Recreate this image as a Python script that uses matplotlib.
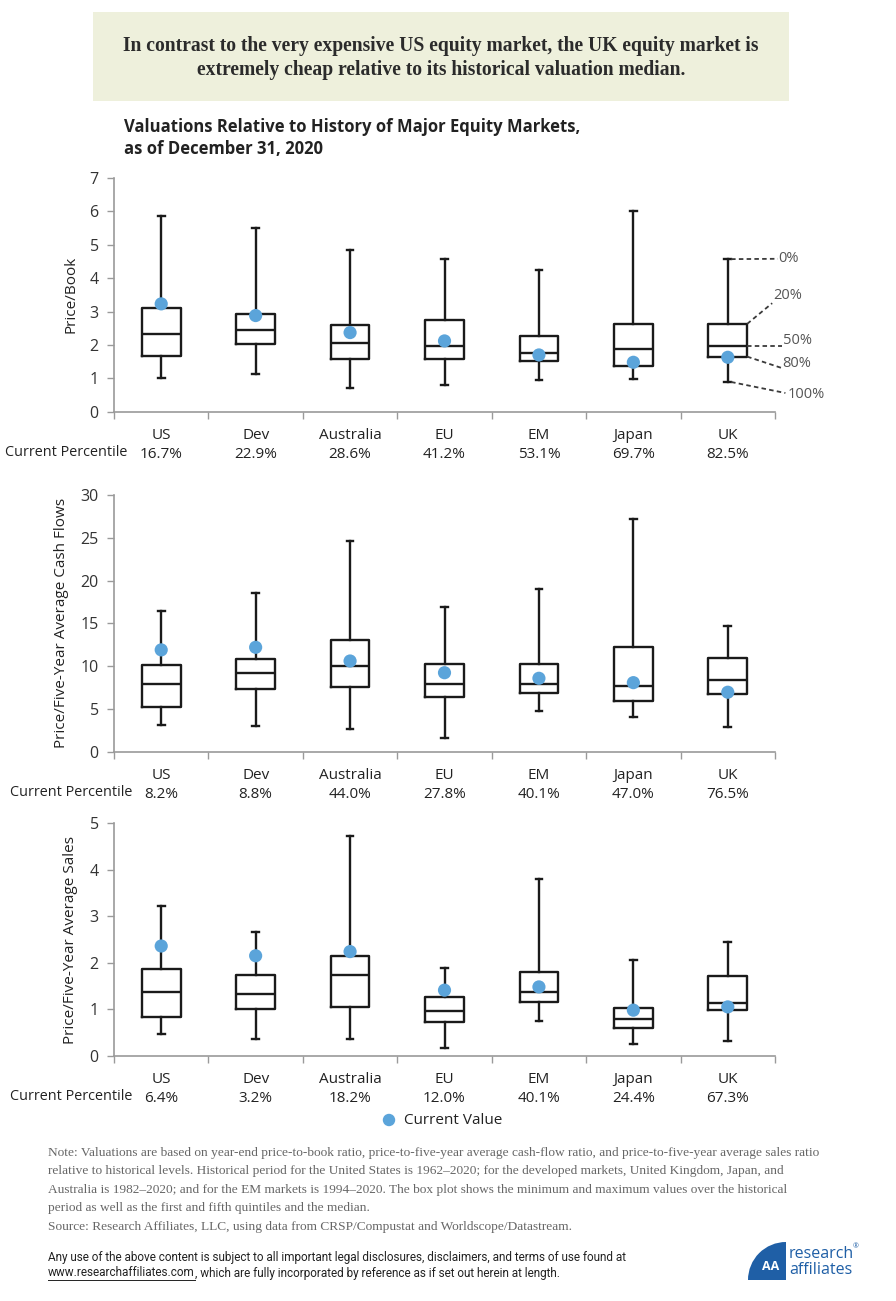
import matplotlib.pyplot as plt
import matplotlib.patches as mpatches
import numpy as np

markets = ["US", "Dev", "Australia", "EU", "EM", "Japan", "UK"]

# Price/Book
pb_min = [1.00, 1.14, 0.70, 0.80, 0.95, 0.98, 0.89]
pb_q1 = [1.68, 2.02, 1.57, 1.57, 1.52, 1.36, 1.65]
pb_med = [2.33, 2.44, 2.06, 1.98, 1.75, 1.89, 1.98]
pb_q3 = [3.12, 2.93, 2.59, 2.75, 2.26, 2.62, 2.63]
pb_max = [5.87, 5.49, 4.83, 4.57, 4.24, 6.00, 4.57]
pb_now = [3.23, 2.88, 2.37, 2.12, 1.70, 1.48, 1.63]
pb_pct = ["16.7%", "22.9%", "28.6%", "41.2%", "53.1%", "69.7%", "82.5%"]

# Price/Five-Year Average Cash Flows
cf_min = [3.16, 3.04, 2.65, 1.56, 4.80, 4.02, 2.85]
cf_q1 = [5.27, 7.37, 7.53, 6.36, 6.86, 5.89, 6.71]
cf_med = [7.90, 9.16, 9.98, 7.90, 7.95, 7.68, 8.38]
cf_q3 = [10.10, 10.80, 13.05, 10.30, 10.30, 12.20, 10.90]
cf_max = [16.5, 18.5, 24.6, 16.9, 19.05, 27.2, 14.7]
cf_now = [11.9, 12.2, 10.6, 9.23, 8.58, 8.07, 6.95]
cf_pct = ["8.2%", "8.8%", "44.0%", "27.8%", "40.1%", "47.0%", "76.5%"]

# Price/Five-Year Average Sales
sl_min = [0.47, 0.36, 0.36, 0.17, 0.75, 0.245, 0.31]
sl_q1 = [0.84, 1.01, 1.05, 0.72, 1.16, 0.60, 0.98]
sl_med = [1.36, 1.33, 1.73, 0.955, 1.37, 0.79, 1.14]
sl_q3 = [1.86, 1.74, 2.14, 1.27, 1.81, 1.02, 1.72]
sl_max = [3.21, 2.67, 4.73, 1.89, 3.80, 2.05, 2.45]
sl_now = [2.36, 2.15, 2.24, 1.41, 1.48, 0.98, 1.05]
sl_pct = ["6.4%", "3.2%", "18.2%", "12.0%", "40.1%", "24.4%", "67.3%"]

W, H = 896, 1301
sans = ["Open Sans", "DejaVu Sans"]
plt.rcParams['font.family'] = sans

fig = plt.figure(figsize=(W / 100, H / 100), dpi=100)
fig.patch.set_facecolor("white")

# overlay in pixel coordinates for decorations
deco = fig.add_axes([0, 0, 1, 1], zorder=-1)
deco.set_xlim(0, W)
deco.set_ylim(H, 0)
deco.axis("off")

deco.add_patch(mpatches.Rectangle((93, 12), 696, 89, facecolor="#eef0dc", edgecolor="none"))
deco.text(441, 58, "In contrast to the very expensive US equity market, the UK equity market is\n"
          "extremely cheap relative to its historical valuation median.",
          ha="center", va="center", fontsize=14.1, fontweight="bold", color="#2b2b2b",
          family="Liberation Serif", linespacing=1.3)

deco.text(124, 138, "Valuations Relative to History of Major Equity Markets,\nas of December 31, 2020",
          ha="left", va="center", fontsize=12, fontweight="bold", color="#222222", linespacing=1.35)

dot_color = "#5ba4da"
edge = "#9a9a9a"


def panel(top, bottom, ymax, step, mins, q1, med, q3, maxs, now, pct, ylabel):
    ax = fig.add_axes([114 / W, (H - bottom) / H, (775 - 114) / W, (bottom - top) / H])
    stats = []
    for i in range(len(markets)):
        stats.append(dict(whislo=mins[i], q1=q1[i], med=med[i], q3=q3[i], whishi=maxs[i]))
    lw = 1.7
    ax.bxp(stats, positions=np.arange(len(markets)), widths=0.41, capwidths=0.07,
           showfliers=False, patch_artist=False,
           boxprops=dict(color="#1a1a1a", linewidth=lw),
           medianprops=dict(color="#1a1a1a", linewidth=lw),
           whiskerprops=dict(color="#1a1a1a", linewidth=lw),
           capprops=dict(color="#1a1a1a", linewidth=lw))
    ax.scatter(np.arange(len(markets)), now, s=90, color=dot_color, zorder=4, edgecolors="none")
    ax.set_xlim(-0.5, len(markets) - 0.5)
    ax.set_ylim(0, ymax)
    ax.set_yticks(np.arange(0, ymax + 0.01, step))
    ax.set_xticks(np.arange(-0.5, len(markets), 1.0))
    ax.set_xticklabels([])
    ax.set_xticks(np.arange(len(markets)), minor=True)
    ax.set_xticklabels([m + "\n" + p for m, p in zip(markets, pct)], minor=True)
    ax.tick_params(axis="x", which="minor", length=0, pad=12, labelsize=11, colors="#222222")
    ax.tick_params(axis="x", which="major", length=5, direction="out", color=edge, width=1)
    ax.tick_params(axis="y", length=5, direction="out", color=edge, width=1,
                   labelsize=11.5, labelcolor="#333333", pad=6)
    for lbl in ax.get_xticklabels(minor=True):
        lbl.set_linespacing(1.3)
    for s in ["top", "right"]:
        ax.spines[s].set_visible(False)
    for s in ["left", "bottom"]:
        ax.spines[s].set_color(edge)
        ax.spines[s].set_linewidth(1.2)
    ax.set_ylabel(ylabel, fontsize=11, color="#222222", labelpad=8)
    return ax


ax1 = panel(178, 411.7, 7, 1, pb_min, pb_q1, pb_med, pb_q3, pb_max, pb_now, pb_pct, "Price/Book")
ax2 = panel(495, 751.7, 30, 5, cf_min, cf_q1, cf_med, cf_q3, cf_max, cf_now, cf_pct,
            "Price/Five-Year Average Cash Flows")
ax3 = panel(823.3, 1055.7, 5, 1, sl_min, sl_q1, sl_med, sl_q3, sl_max, sl_now, sl_pct,
            "Price/Five-Year Average Sales")

for x, y in [(5, 452), (10, 793), (10, 1097)]:
    deco.text(x, y, "Current Percentile", ha="left", va="center", fontsize=10.4, color="#222222")

# percentile key on the UK box
u = len(markets) - 1
keys = [("0%", (u + 0.035, pb_max[u]), (6.53, 4.58)),
        ("20%", (u + 0.205, pb_q3[u]), (6.48, 3.47)),
        ("50%", (u + 0.205, pb_med[u]), (6.58, 2.12)),
        ("80%", (u + 0.205, pb_q1[u]), (6.58, 1.43)),
        ("100%", (u + 0.035, pb_min[u]), (6.63, 0.53))]
line_ends = [(6.53, 4.58), (6.47, 3.25), (6.57, 1.98), (6.57, 1.31), (6.61, 0.56)]
for (txt, start, pos), end in zip(keys, line_ends):
    ax1.plot([start[0], end[0]], [start[1], end[1]], ls=(0, (2.5, 1.8)), lw=1.3,
             color="#3a3a3a", clip_on=False, zorder=3)
    ax1.text(pos[0], pos[1], txt, ha="left", va="center", fontsize=10.5,
             color="#555555", clip_on=False)

# legend
deco.scatter([389], [1120], s=80, color=dot_color, edgecolors="none")
deco.text(404, 1120, "Current Value", ha="left", va="center", fontsize=11, color="#222222")

note = ("Note: Valuations are based on year-end price-to-book ratio, price-to-five-year average cash-flow ratio, and price-to-five-year average sales ratio\n"
        "relative to historical levels. Historical period for the United States is 1962\u20132020; for the developed markets, United Kingdom, Japan, and\n"
        "Australia is 1982\u20132020; and for the EM markets is 1994\u20132020. The box plot shows the minimum and maximum values over the historical\n"
        "period as well as the first and fifth quintiles and the median.\n"
        "Source: Research Affiliates, LLC, using data from CRSP/Compustat and Worldscope/Datastream.")
deco.text(48, 1147, note, ha="left", va="top", fontsize=9.6, color="#666666",
          family="Liberation Serif", linespacing=1.72)

dfs = 8.5
deco.text(48, 1257, "Any use of the above content is subject to all important legal disclosures, disclaimers, and terms of use found at",
          ha="left", va="center", fontsize=dfs, color="#222222", family="Roboto")
url = deco.text(48, 1273, "www.researchaffiliates.com", ha="left", va="center", fontsize=dfs,
                color="#222222", family="Roboto")
fig.canvas.draw()
bb = url.get_window_extent(fig.canvas.get_renderer())
url_end = bb.x1
deco.text(url_end, 1273, ", which are fully incorporated by reference as if set out herein at length.",
          ha="left", va="center", fontsize=dfs, color="#222222", family="Roboto")
deco.plot([48, url_end], [1280, 1280], color="#222222", lw=0.7)

# logo
deco.add_patch(mpatches.Wedge((786, 1280), 38, 180, 270, facecolor="#1f5fa6", edgecolor="none"))
deco.text(771, 1266, "AA", ha="center", va="center", fontsize=9, fontweight="bold", color="white")
deco.text(789, 1254, "research", ha="left", va="center", fontsize=11.5, color="#1f5fa6")
deco.text(789, 1270, "affiliates", ha="left", va="center", fontsize=11.5, color="#1f5fa6")
deco.text(853, 1247, "\u00ae", ha="left", va="center", fontsize=5, color="#1f5fa6")

fig.savefig("out.png", dpi=100)
